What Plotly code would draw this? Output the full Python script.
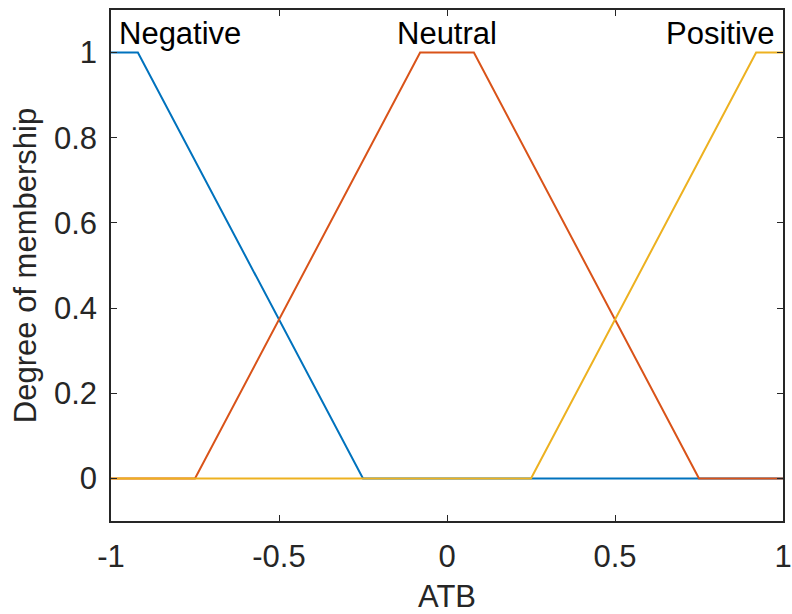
import plotly.graph_objects as go

# Membership function breakpoints (x, degree)
neg_x = [-1.0, -0.92, -0.25, 1.0]
neg_y = [1.0, 1.0, 0.0, 0.0]
neu_x = [-1.0, -0.75, -0.08, 0.08, 0.75, 1.0]
neu_y = [0.0, 0.0, 1.0, 1.0, 0.0, 0.0]
pos_x = [-1.0, 0.25, 0.92, 1.0]
pos_y = [0.0, 0.0, 1.0, 1.0]

labels = ["Negative", "Neutral", "Positive"]
label_x = [-1.0, 0.0, 1.0]

x_ticks = [-1, -0.5, 0, 0.5, 1]
x_ticktext = ["-1", "-0.5", "0", "0.5", "1"]
y_ticks = [0, 0.2, 0.4, 0.6, 0.8, 1]
y_ticktext = ["0", "0.2", "0.4", "0.6", "0.8", "1"]

FONT = "Liberation Sans, Arial, sans-serif"
AX = "#262626"
FS = 31

fig = go.Figure()
fig.add_trace(go.Scatter(x=neg_x, y=neg_y, mode="lines", line=dict(color="#0072BD", width=2), name=labels[0]))
fig.add_trace(go.Scatter(x=neu_x, y=neu_y, mode="lines", line=dict(color="#D95319", width=2), name=labels[1]))
fig.add_trace(go.Scatter(x=pos_x, y=pos_y, mode="lines", line=dict(color="#EDB120", width=2), name=labels[2]))

anchors = ["left", "center", "right"]
shifts = [6, 0, -6]
for t, xx, a, s in zip(labels, label_x, anchors, shifts):
    fig.add_annotation(x=xx, y=1.045, text=t, showarrow=False, xanchor=a, yanchor="middle",
                       xshift=s, font=dict(family=FONT, size=FS, color="#000000"))

fig.update_layout(
    width=792, height=614,
    margin=dict(l=111, r=9, t=10, b=93),
    paper_bgcolor="white", plot_bgcolor="white",
    showlegend=False,
    font=dict(family=FONT, size=FS, color=AX),
)
fig.update_xaxes(range=[-1, 1], tickvals=x_ticks, ticktext=x_ticktext, automargin=False,
                 ticklabeloverflow="allow",
                 showgrid=False, zeroline=False, showline=True, linecolor=AX, linewidth=1.5,
                 mirror="ticks", ticks="inside", ticklen=6, tickcolor=AX,
                 ticklabelstandoff=7,
                 title=dict(text="ATB", font=dict(family=FONT, size=FS, color=AX), standoff=14),
                 tickfont=dict(family=FONT, size=FS, color=AX))
fig.update_yaxes(range=[-0.1, 1.1], tickvals=y_ticks, ticktext=y_ticktext, automargin=False,
                 showgrid=False, zeroline=False, showline=True, linecolor=AX, linewidth=1.5,
                 mirror="ticks", ticks="inside", ticklen=6, tickcolor=AX,
                 ticklabelstandoff=6,
                 title=dict(text="Degree of membership", font=dict(family=FONT, size=FS, color=AX), standoff=8),
                 tickfont=dict(family=FONT, size=FS, color=AX))

fig.write_html("out.html")
